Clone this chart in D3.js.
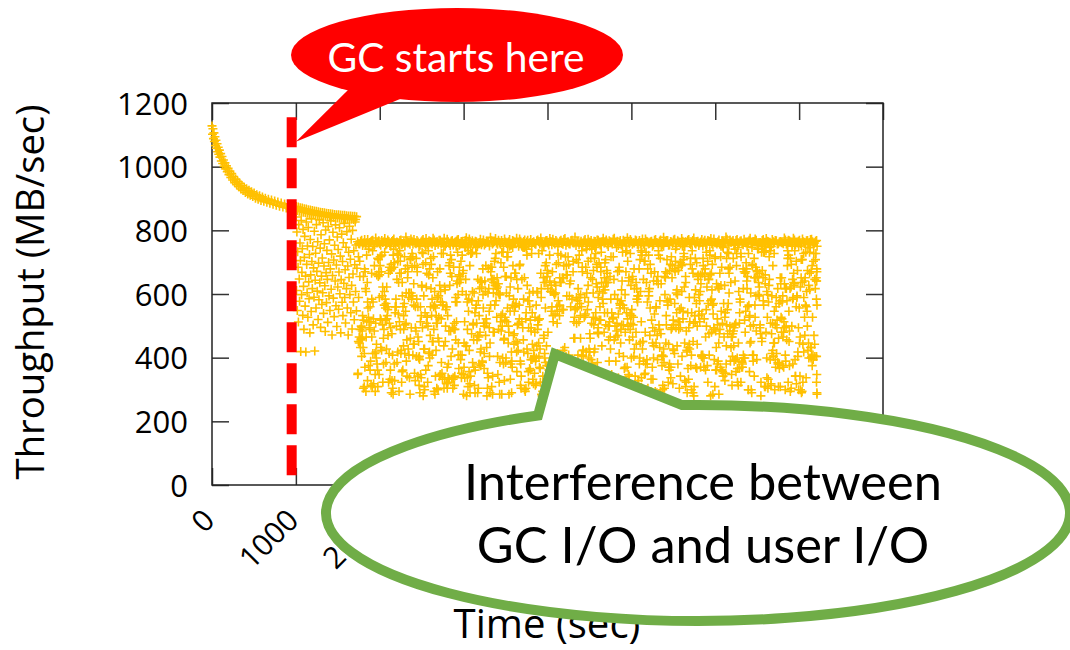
<!DOCTYPE html>
<html lang="en">
<head>
<meta charset="UTF-8"/>
<title>Throughput over time – GC interference</title>
<script src="https://cdn.jsdelivr.net/npm/d3@7/dist/d3.min.js"></script>
<style>
    body { margin: 0; background: #fff; }
    svg { display: block; }
    .axis path.domain { display: none; }
    .axis line { stroke: #333; stroke-width: 1.5px; }
    .axis text { font-family: "Open Sans", sans-serif; fill: #000; }
    .mark { fill: none; stroke: #ffc000; stroke-width: 1.6px; }
    .label { font-family: "Open Sans", sans-serif; fill: #000; }
    .callout { font-family: Lato, "Open Sans", sans-serif; }
</style>
</head>
<body>
<svg width="1070" height="650"></svg>
<script>

// ---- data: [time (sec), throughput (MB/sec)] ----
const warmUp = [[0,1128],[6,1102],[11,1119],[17,1088],[23,1106],[29,1079],[35,1094],[41,1066],[47,1083],[53,1058],[60,1072],[67,1047],[74,1061],[81,1039],[88,1052],[95,1030],[103,1041],[111,1018],[119,1032],[127,1010],[136,1021],[145,1001],[154,1012],[163,993],[172,1003],[182,984],[192,995],[202,975],[213,986],[224,966],[235,978],[246,958],[258,969],[270,950],[282,961],[294,943],[306,954],[318,937],[331,948],[344,930],[357,941],[370,925],[384,935],[398,919],[412,931],[426,914],[441,926],[456,910],[471,921],[486,906],[502,917],[518,901],[534,912],[550,898],[567,909],[584,894],[601,905],[618,891],[636,901],[654,888],[672,898],[690,885],[709,895],[728,882],[747,892],[766,879],[785,889],[805,876],[825,886],[845,873],[865,883],[885,870],[905,880],[925,868],[945,877],[965,866],[985,875],[1000,864]];

const bandEarly = [[1004,875],[1016,862],[1028,873],[1040,860],[1052,871],[1064,859],[1076,870],[1088,857],[1100,868],[1112,856],[1124,867],[1136,854],[1148,865],[1160,853],[1172,864],[1184,851],[1196,862],[1208,850],[1220,861],[1232,849],[1244,860],[1256,848],[1268,858],[1280,847],[1292,857],[1304,846],[1316,856],[1328,845],[1340,855],[1352,844],[1364,854],[1376,843],[1388,853],[1400,842],[1412,852],[1424,841],[1436,851],[1448,840],[1460,850],[1472,840],[1484,849],[1496,839],[1508,849],[1520,838],[1532,848],[1544,838],[1556,847],[1568,837],[1580,847],[1592,836],[1604,846],[1616,836],[1628,845],[1640,835],[1652,845],[1664,835],[1676,844],[1688,834],[1700,844],[1712,834],[1724,843]];

const bandLate = [
[1736,764],[1760,757],[1784,769],[1808,760],[1832,755],[1856,771],[1880,762],[1904,767],[1928,756],[1952,776],
[1976,761],[2000,758],[2024,768],[2048,763],[2072,754],[2096,770],[2120,759],[2144,765],[2168,773],[2192,757],
[2216,762],[2240,768],[2264,755],[2288,764],[2312,779],[2336,760],[2360,756],[2384,766],[2408,771],[2432,758],
[2456,763],[2480,753],[2504,767],[2528,761],[2552,774],[2576,759],[2600,765],[2624,757],[2648,770],[2672,762],
[2696,756],[2720,769],[2744,760],[2768,775],[2792,758],[2816,764],[2840,752],[2864,768],[2888,761],[2912,766],
[2936,771],[2960,757],[2984,763],[3008,759],[3032,777],[3056,762],[3080,755],[3104,767],[3128,760],[3152,764],
[3176,758],[3200,772],[3224,761],[3248,754],[3272,766],[3296,763],[3320,778],[3344,757],[3368,765],[3392,760],
[3416,769],[3440,756],[3464,762],[3488,773],[3512,759],[3536,764],[3560,753],[3584,768],[3608,761],[3632,775],
[3656,760],[3680,766],[3704,757],[3728,770],[3752,763],[3776,755],[3800,771],[3824,762],[3848,758],[3872,767],
[3896,764],[3920,776],[3944,759],[3968,761],[3992,768],[4016,754],[4040,765],[4064,772],[4088,757],[4112,763],
[4136,760],[4160,769],[4184,756],[4208,774],[4232,762],[4256,758],[4280,767],[4304,761],[4328,779],[4352,764],
[4376,755],[4400,766],[4424,760],[4448,771],[4472,757],[4496,763],[4520,768],[4544,753],[4568,765],[4592,770],
[4616,761],[4640,758],[4664,775],[4688,764],[4712,756],[4736,767],[4760,762],[4784,772],[4808,759],[4832,766],
[4856,763],[4880,754],[4904,769],[4928,760],[4952,777],[4976,758],[5000,765],[5024,761],[5048,770],[5072,756],
[5096,768],[5120,762],[5144,757],[5168,773],[5192,764],[5216,759],[5240,766],[5264,755],[5288,771],[5312,760],
[5336,765],[5360,757],[5384,778],[5408,762],[5432,768],[5456,754],[5480,763],[5504,770],[5528,758],[5552,767],
[5576,761],[5600,774],[5624,756],[5648,764],[5672,769],[5696,759],[5720,762],[5744,776],[5768,757],[5792,766],
[5816,760],[5840,771],[5864,763],[5888,755],[5912,768],[5936,765],[5960,758],[5984,773],[6008,761],[6032,764],
[6056,756],[6080,767],[6104,762],[6128,779],[6152,759],[6176,770],[6200,764],[6224,753],[6248,768],[6272,761],
[6296,766],[6320,758],[6344,772],[6368,760],[6392,763],[6416,775],[6440,757],[6464,765],[6488,769],[6512,755],
[6536,762],[6560,768],[6584,759],[6608,774],[6632,764],[6656,756],[6680,771],[6704,761],[6728,767],[6752,758],
[6776,765],[6800,760],[6824,776],[6848,757],[6872,769],[6896,763],[6920,754],[6944,770],[6968,762],[6992,766],
[7016,759],[7040,773],[7064,761],[7088,767],[7112,756],[7136,771],[7160,764],[7184,760],[7208,768]];

const bandLateB = [
[1748,758],[1772,766],[1796,752],[1820,771],[1844,761],[1868,749],[1892,764],[1916,769],[1940,755],[1964,760],
[1988,767],[2012,753],[2036,762],[2060,774],[2084,757],[2108,765],[2132,750],[2156,768],[2180,760],[2204,763],
[2228,755],[2252,770],[2276,759],[2300,751],[2324,766],[2348,762],[2372,773],[2396,756],[2420,761],[2444,768],
[2468,749],[2492,763],[2516,771],[2540,758],[2564,754],[2588,767],[2612,760],[2636,775],[2660,752],[2684,764],
[2708,769],[2732,757],[2756,761],[2780,750],[2804,772],[2828,759],[2852,766],[2876,754],[2900,763],[2924,770],
[2948,753],[2972,765],[2996,758],[3020,768],[3044,751],[3068,773],[3092,760],[3116,757],[3140,766],[3164,749],
[3188,762],[3212,755],[3236,770],[3260,759],[3284,764],[3308,751],[3332,767],[3356,761],[3380,774],[3404,756],
[3428,760],[3452,768],[3476,750],[3500,763],[3524,757],[3548,771],[3572,754],[3596,766],[3620,759],[3644,762],
[3668,773],[3692,752],[3716,765],[3740,758],[3764,769],[3788,761],[3812,750],[3836,764],[3860,756],[3884,770],
[3908,757],[3932,763],[3956,751],[3980,767],[4004,760],[4028,774],[4052,755],[4076,762],[4100,768],[4124,749],
[4148,766],[4172,759],[4196,771],[4220,753],[4244,764],[4268,757],[4292,769],[4316,760],[4340,752],[4364,765],
[4388,761],[4412,750],[4436,767],[4460,756],[4484,772],[4508,762],[4532,758],[4556,766],[4580,751],[4604,769],
[4628,754],[4652,764],[4676,760],[4700,770],[4724,749],[4748,763],[4772,757],[4796,775],[4820,761],[4844,752],
[4868,768],[4892,758],[4916,765],[4940,751],[4964,762],[4988,771],[5012,756],[5036,760],[5060,767],[5084,753],
[5108,759],[5132,773],[5156,752],[5180,766],[5204,757],[5228,764],[5252,750],[5276,769],[5300,762],[5324,756],
[5348,770],[5372,754],[5396,761],[5420,768],[5444,753],[5468,765],[5492,759],[5516,772],[5540,750],[5564,763],
[5588,757],[5612,766],[5636,749],[5660,762],[5684,771],[5708,755],[5732,768],[5756,760],[5780,764],[5804,752],
[5828,763],[5852,751],[5876,769],[5900,758],[5924,766],[5948,774],[5972,753],[5996,761],[6020,757],[6044,770],
[6068,750],[6092,765],[6116,760],[6140,772],[6164,754],[6188,762],[6212,768],[6236,756],[6260,771],[6284,759],
[6308,767],[6332,755],[6356,763],[6380,750],[6404,769],[6428,758],[6452,765],[6476,773],[6500,752],[6524,761],
[6548,756],[6572,771],[6596,754],[6620,766],[6644,760],[6668,749],[6692,764],[6716,768],[6740,757],[6764,763],
[6788,762],[6812,758],[6836,770],[6860,753],[6884,767],[6908,761],[6932,775],[6956,755],[6980,760],[7004,769],
[7028,751],[7052,764],[7076,757],[7100,768],[7124,762],[7148,772],[7172,754],[7196,766]];

const cloudEarly = [
[1003,842],[1008,611],[1012,795],[1017,548],[1021,733],[1026,684],[1030,512],[1035,818],[1040,647],[1044,577],
[1049,760],[1054,705],[1058,419],[1063,831],[1068,598],[1072,668],[1077,742],[1082,533],[1086,803],[1091,624],
[1096,489],[1101,715],[1105,781],[1110,562],[1115,656],[1119,418],[1124,826],[1129,693],[1134,604],[1138,751],
[1143,527],[1148,809],[1153,638],[1157,585],[1162,724],[1167,478],[1172,771],[1177,660],[1182,545],[1186,836],
[1191,702],[1196,617],[1201,749],[1206,503],[1211,682],[1216,590],[1220,797],[1225,421],[1230,643],[1235,728],
[1240,556],[1245,818],[1250,671],[1255,609],[1260,764],[1265,520],[1270,697],[1275,582],[1280,833],[1285,635],
[1290,744],[1295,495],[1300,786],[1305,656],[1310,567],[1315,713],[1320,604],[1325,824],[1330,539],[1335,688],
[1340,758],[1345,626],[1350,482],[1355,801],[1360,667],[1365,573],[1370,737],[1375,646],[1380,511],[1385,812],
[1390,699],[1395,594],[1400,770],[1406,548],[1411,679],[1416,830],[1421,615],[1426,726],[1431,471],[1437,658],
[1442,794],[1447,587],[1452,707],[1457,529],[1462,753],[1468,641],[1473,817],[1478,563],[1483,691],[1488,498],
[1494,779],[1499,622],[1504,740],[1509,552],[1514,669],[1520,808],[1525,601],[1530,719],[1535,478],[1540,645],
[1546,788],[1551,574],[1556,702],[1561,532],[1566,761],[1572,634],[1577,822],[1582,589],[1587,676],[1592,509],
[1598,747],[1603,617],[1608,796],[1613,556],[1618,688],[1624,471],[1629,731],[1634,652],[1639,813],[1644,598],
[1650,709],[1655,541],[1660,772],[1665,627],[1670,490],[1676,800],[1681,663],[1686,575],[1691,736],[1696,519],
[1702,692],[1707,826],[1712,608],[1717,754],[1722,547],[1728,681]];

const cloudMidTime = [
1737,1740,1746,1748,1755,1761,1763,1770,1777,1779, 1784,1791,1793,1801,1805,1808,1816,1819,1823,1830,
1836,1838,1844,1851,1854,1860,1867,1869,1874,1882, 1885,1891,1896,1903,1905,1911,1918,1920,1927,1933,
1936,1943,1946,1952,1959,1961,1968,1974,1977,1983, 1989,1992,1999,2004,2006,2013,2019,2022,2029,2035,
2037,2044,2050,2053,2059,2066,2068,2074,2081,2083, 2090,2096,2099,2105,2112,2114,2121,2127,2130,2137,
2143,2146,2152,2159,2161,2168,2174,2177,2184,2190, 2193,2199,2206,2208,2215,2221,2224,2230,2237,2239,
2246,2252,2255,2261,2268,2270,2277,2283,2286,2292, 2299,2301,2308,2314,2317,2323,2330,2332,2339,2345,
2348,2354,2361,2363,2370,2376,2379,2385,2392,2394, 2401,2407,2410,2416,2423,2425,2432,2438,2441,2447,
2454,2456,2463,2469,2472,2478,2485,2487,2494,2500, 2503,2509,2516,2518,2525,2531,2534,2540,2547,2549,
2556,2562,2565,2571,2578,2580,2587,2593,2596,2602, 2609,2611,2618,2624,2627,2633,2640,2642,2649,2655,
2658,2664,2671,2673,2680,2686,2689,2695,2702,2704, 2711,2717,2720,2726,2733,2735,2742,2748,2751,2757,
2764,2766,2773,2779,2782,2788,2795,2797,2804,2810, 2813,2819,2826,2828,2835,2841,2844,2850,2857,2859,
2866,2872,2875,2881,2888,2890,2897,2903,2906,2912, 2919,2921,2928,2934,2937,2943,2950,2952,2959,2965,
2968,2974,2981,2983,2990,2996,2999,3005,3012,3014, 3021,3027,3030,3036,3043,3045,3052,3058,3061,3067,
3074,3076,3083,3089,3092,3098,3105,3107,3114,3120, 3123,3129,3136,3138,3145,3151,3154,3160,3167,3169,
3176,3182,3185,3191,3198,3200,3207,3213,3216,3222, 3229,3231,3238,3244,3247,3253,3260,3262,3269,3275,
3278,3284,3291,3293,3300,3306,3309,3315,3322,3324, 3331,3337,3340,3346,3353,3355,3362,3368,3371,3377,
3384,3386,3393,3399,3402,3408,3415,3417,3424,3430, 3433,3439,3446,3448,3455,3461,3464,3470,3477,3479,
3486,3492,3495,3501,3508,3510,3517,3523,3526,3532, 3539,3541,3548,3554,3557,3563,3570,3572,3579,3585,
3588,3594,3601,3603,3610,3616,3619,3625,3632,3634, 3641,3647,3650,3656,3663,3665,3672,3678,3681,3687,
3694,3696,3703,3709,3712,3718,3725,3727,3734,3740, 3743,3749,3756,3758,3765,3771,3774,3780,3787,3789,
3796,3802,3805,3811,3818,3820,3827,3833,3836,3842, 3849,3851,3858,3864,3867,3873,3880,3882,3889,3895,
3898,3904,3911,3913,3920,3926,3929,3935,3942,3944, 3951,3957,3960,3966,3973,3975,3982,3988,3991,3997,
4004,4006,4013,4019,4022,4028,4035,4037,4044,4050, 4053,4059,4066,4068,4075,4081,4084,4090,4097,4099,
4106,4112,4115,4121,4128,4130,4137,4143,4146,4152, 4159,4161,4168,4174,4177,4183,4190,4192,4199,4205,
4208,4214,4221,4223,4230,4236,4239,4245,4252,4254, 4261,4267,4270,4276,4283,4285,4292,4298,4301,4307,
4314,4316,4323,4329,4332,4338,4345,4347,4354,4360, 4363,4369,4376,4378,4385,4391,4394,4400,4407,4409,
4416,4422,4425,4431,4438,4440,4447,4453,4456,4462];

const cloudMidRate = [
347,351,717,589,446,703,655,432,461,499, 404,484,461,432,655,518,413,679,370,617,
608,465,722,636,328,556,375,741,513,489, 560,389,313,665,584,309,413,575,318,750,
689,413,294,508,399,442,380,361,309,655, 670,347,660,689,522,432,670,423,594,503,
323,461,489,565,731,518,556,385,427,622, 532,560,470,665,413,508,332,361,494,290,
679,328,408,285,722,684,380,328,541,560, 584,499,385,727,703,537,722,294,665,736,
489,413,665,323,636,594,560,437,489,570, 413,503,546,508,389,456,689,651,427,589,
408,337,285,708,712,494,584,684,594,717, 442,565,442,689,328,494,484,404,584,670,
342,465,451,313,404,290,513,347,337,627, 622,494,693,280,594,309,427,541,698,361,
508,665,527,323,375,736,413,418,399,470, 712,617,532,584,451,651,717,560,294,565,
285,342,423,532,304,508,670,299,594,527, 342,679,347,608,522,727,351,332,565,727,
437,304,622,613,451,551,560,560,370,532, 323,380,689,332,627,665,722,404,332,655,
427,304,332,684,508,313,489,575,456,750, 575,632,731,598,446,366,684,636,408,394,
703,337,408,722,665,674,285,370,513,337, 746,437,598,437,575,489,309,546,584,423,
689,290,342,727,727,579,731,385,503,456, 370,313,290,361,746,565,727,456,290,646,
304,465,380,617,641,418,427,641,636,389, 679,598,508,366,499,641,608,470,522,432,
280,304,603,337,617,494,404,446,565,670, 646,684,646,342,480,636,646,703,565,712,
627,579,617,651,622,347,603,489,323,285, 385,513,532,484,285,499,537,731,684,456,
328,518,655,385,655,603,717,556,717,446, 480,285,750,546,332,380,418,290,370,565,
689,470,442,475,665,560,665,451,418,646, 503,617,423,750,565,522,693,313,380,342,
513,750,750,746,456,418,651,299,750,522, 304,741,427,627,413,356,323,579,366,560,
518,394,494,727,541,442,608,318,423,404, 480,527,389,318,399,437,489,603,518,446,
404,370,427,366,665,617,285,280,294,342, 651,461,636,413,689,556,636,437,375,674,
665,480,309,361,361,641,608,347,627,294, 560,670,532,513,299,413,636,537,603,627,
332,560,546,413,579,698,389,532,651,636, 722,636,370,551,651,366,551,651,304,432,
361,337,404,660,594,342,280,370,408,693, 594,332,370,560,323,380,584,375,370,703,
461,323,527,551,375,328,589,508,556,579, 408,698,589,722,570,532,461,366,408,736,
670,423,423,370,527,294,532,285,684,418];

const cloudLateTime = [
4467,4472,4476,4484,4487,4493,4502,4504,4509,4516, 4520,4528,4531,4537,4546,4548,4553,4560,4564,4572,
4575,4581,4590,4592,4597,4604,4608,4616,4619,4625, 4634,4636,4641,4648,4652,4660,4663,4669,4678,4680,
4685,4692,4696,4704,4707,4713,4722,4724,4729,4736, 4740,4748,4751,4757,4766,4768,4773,4780,4784,4792,
4795,4801,4810,4812,4817,4824,4828,4836,4839,4845, 4854,4856,4861,4868,4872,4880,4883,4889,4898,4900,
4905,4912,4916,4924,4927,4933,4942,4944,4949,4956, 4960,4968,4971,4977,4986,4988,4993,5000,5004,5012,
5015,5021,5030,5032,5037,5044,5048,5056,5059,5065, 5074,5076,5081,5088,5092,5100,5103,5109,5118,5120,
5125,5132,5136,5144,5147,5153,5162,5164,5169,5176, 5180,5188,5191,5197,5206,5208,5213,5220,5224,5232,
5235,5241,5250,5252,5257,5264,5268,5276,5279,5285, 5294,5296,5301,5308,5312,5320,5323,5329,5338,5340,
5345,5352,5356,5364,5367,5373,5382,5384,5389,5396, 5400,5408,5411,5417,5426,5428,5433,5440,5444,5452,
5455,5461,5470,5472,5477,5484,5488,5496,5499,5505, 5514,5516,5521,5528,5532,5540,5543,5549,5558,5560,
5565,5572,5576,5584,5587,5593,5602,5604,5609,5616, 5620,5628,5631,5637,5646,5648,5653,5660,5664,5672,
5675,5681,5690,5692,5697,5704,5708,5716,5719,5725, 5734,5736,5741,5748,5752,5760,5763,5769,5778,5780,
5785,5792,5796,5804,5807,5813,5822,5824,5829,5836, 5840,5848,5851,5857,5866,5868,5873,5880,5884,5892,
5895,5901,5910,5912,5917,5924,5928,5936,5939,5945, 5954,5956,5961,5968,5972,5980,5983,5989,5998,6000,
6005,6012,6016,6024,6027,6033,6042,6044,6049,6056, 6060,6068,6071,6077,6086,6088,6093,6100,6104,6112,
6115,6121,6130,6132,6137,6144,6148,6156,6159,6165, 6174,6176,6181,6188,6192,6200,6203,6209,6218,6220,
6225,6232,6236,6244,6247,6253,6262,6264,6269,6276, 6280,6288,6291,6297,6306,6308,6313,6320,6324,6332,
6335,6341,6350,6352,6357,6364,6368,6376,6379,6385, 6394,6396,6401,6408,6412,6420,6423,6429,6438,6440,
6445,6452,6456,6464,6467,6473,6482,6484,6489,6496, 6500,6508,6511,6517,6526,6528,6533,6540,6544,6552,
6555,6561,6570,6572,6577,6584,6588,6596,6599,6605, 6614,6616,6621,6628,6632,6640,6643,6649,6658,6660,
6665,6672,6676,6684,6687,6693,6702,6704,6709,6716, 6720,6728,6731,6737,6746,6748,6753,6760,6764,6772,
6775,6781,6790,6792,6797,6804,6808,6816,6819,6825, 6834,6836,6841,6848,6852,6860,6863,6869,6878,6880,
6885,6892,6896,6904,6907,6913,6922,6924,6929,6936, 6940,6948,6951,6957,6966,6968,6973,6980,6984,6992,
6995,7001,7010,7012,7017,7024,7028,7036,7039,7045, 7054,7056,7061,7068,7072,7080,7083,7089,7098,7100,
7105,7112,7116,7124,7127,7133,7142,7144,7149,7156, 7160,7168,7171,7177,7186,7188,7193,7200,7204,7208,
7210,7212,7213,7211,7209,7214,7207,7212,7206,7213];

const cloudLateRate = [
603,750,551,627,575,399,750,475,461,712, 394,741,380,646,527,674,503,712,427,522,
541,632,684,622,480,494,475,518,608,560, 518,670,731,437,332,603,570,622,651,541,
698,708,636,323,674,665,636,499,456,499, 513,465,427,717,541,309,299,280,717,646,
285,598,332,465,280,746,508,670,470,337, 684,674,570,565,446,579,613,641,565,328,
503,328,366,370,480,731,541,736,370,703, 499,641,651,456,489,727,508,399,532,655,
646,503,404,679,617,299,299,636,442,584, 575,318,299,594,679,399,708,608,513,337,
722,427,451,646,290,703,703,351,380,299, 636,380,575,304,608,594,290,470,556,294,
665,518,370,446,332,399,437,670,484,280, 446,556,641,470,394,632,736,503,432,579,
712,475,750,408,404,299,404,750,385,655, 598,670,446,503,665,579,565,323,442,361,
380,584,337,370,717,494,689,427,518,423, 413,570,670,741,494,541,613,598,513,674,
684,304,513,494,698,556,608,404,750,546, 708,717,622,328,655,636,323,423,418,541,
432,332,589,442,513,693,375,408,541,736, 290,451,508,309,589,513,712,370,698,366,
442,655,646,532,546,579,608,660,632,404, 537,399,408,689,399,522,665,679,361,551,
499,622,703,323,646,646,408,722,660,280, 665,584,613,565,285,570,494,394,712,717,
361,432,361,380,503,622,446,285,475,489, 370,627,546,684,508,356,342,570,351,627,
527,541,380,437,503,551,475,679,727,603, 484,684,389,432,465,313,465,475,484,437,
494,503,641,394,356,689,399,366,746,446, 608,508,541,575,323,717,370,385,380,679,
408,399,518,399,480,546,698,641,617,655, 299,727,565,356,532,499,603,299,746,689,
408,389,408,712,651,565,684,651,484,674, 670,655,598,741,594,665,494,475,280,731,
461,674,651,579,565,731,309,660,309,480, 399,337,527,304,332,627,717,746,508,736,
318,475,413,508,689,404,727,546,299,394, 370,589,413,518,385,380,309,570,366,579,
309,632,480,651,575,375,465,370,513,494, 299,617,389,617,456,689,736,323,546,451,
484,617,712,622,693,499,646,584,589,636, 627,736,394,342,703,318,589,674,404,494,
750,556,342,465,299,651,290,636,708,323, 727,589,641,470,651,731,337,608,499,674,
746,446,399,731,613,746,399,670,404,375, 527,394,703,470,646,404,617,727,651,404,
679,670,565,347,641,750,323,290,584,285];

// second set of samples, one every 10 s
const cloudTenTime = [
1745,1755,1765,1775,1785,1795,1805,1815,1825,1835,1845,1855,1865,1875,1885,1895,1905,1915,1925,1935,
1945,1955,1965,1975,1985,1995,2005,2015,2025,2035,2045,2055,2065,2075,2085,2095,2105,2115,2125,2135,
2145,2155,2165,2175,2185,2195,2205,2215,2225,2235,2245,2255,2265,2275,2285,2295,2305,2315,2325,2335,
2345,2355,2365,2375,2385,2395,2405,2415,2425,2435,2445,2455,2465,2475,2485,2495,2505,2515,2525,2535,
2545,2555,2565,2575,2585,2595,2605,2615,2625,2635,2645,2655,2665,2675,2685,2695,2705,2715,2725,2735,
2745,2755,2765,2775,2785,2795,2805,2815,2825,2835,2845,2855,2865,2875,2885,2895,2905,2915,2925,2935,
2945,2955,2965,2975,2985,2995,3005,3015,3025,3035,3045,3055,3065,3075,3085,3095,3105,3115,3125,3135,
3145,3155,3165,3175,3185,3195,3205,3215,3225,3235,3245,3255,3265,3275,3285,3295,3305,3315,3325,3335,
3345,3355,3365,3375,3385,3395,3405,3415,3425,3435,3445,3455,3465,3475,3485,3495,3505,3515,3525,3535,
3545,3555,3565,3575,3585,3595,3605,3615,3625,3635,3645,3655,3665,3675,3685,3695,3705,3715,3725,3735,
3745,3755,3765,3775,3785,3795,3805,3815,3825,3835,3845,3855,3865,3875,3885,3895,3905,3915,3925,3935,
3945,3955,3965,3975,3985,3995,4005,4015,4025,4035,4045,4055,4065,4075,4085,4095,4105,4115,4125,4135,
4145,4155,4165,4175,4185,4195,4205,4215,4225,4235,4245,4255,4265,4275,4285,4295,4305,4315,4325,4335,
4345,4355,4365,4375,4385,4395,4405,4415,4425,4435,4445,4455,4465,4475,4485,4495,4505,4515,4525,4535,
4545,4555,4565,4575,4585,4595,4605,4615,4625,4635,4645,4655,4665,4675,4685,4695,4705,4715,4725,4735,
4745,4755,4765,4775,4785,4795,4805,4815,4825,4835,4845,4855,4865,4875,4885,4895,4905,4915,4925,4935,
4945,4955,4965,4975,4985,4995,5005,5015,5025,5035,5045,5055,5065,5075,5085,5095,5105,5115,5125,5135,
5145,5155,5165,5175,5185,5195,5205,5215,5225,5235,5245,5255,5265,5275,5285,5295,5305,5315,5325,5335,
5345,5355,5365,5375,5385,5395,5405,5415,5425,5435,5445,5455,5465,5475,5485,5495,5505,5515,5525,5535,
5545,5555,5565,5575,5585,5595,5605,5615,5625,5635,5645,5655,5665,5675,5685,5695,5705,5715,5725,5735,
5745,5755,5765,5775,5785,5795,5805,5815,5825,5835,5845,5855,5865,5875,5885,5895,5905,5915,5925,5935,
5945,5955,5965,5975,5985,5995,6005,6015,6025,6035,6045,6055,6065,6075,6085,6095,6105,6115,6125,6135,
6145,6155,6165,6175,6185,6195,6205,6215,6225,6235,6245,6255,6265,6275,6285,6295,6305,6315,6325,6335,
6345,6355,6365,6375,6385,6395,6405,6415,6425,6435,6445,6455,6465,6475,6485,6495,6505,6515,6525,6535,
6545,6555,6565,6575,6585,6595,6605,6615,6625,6635,6645,6655,6665,6675,6685,6695,6705,6715,6725,6735,
6745,6755,6765,6775,6785,6795,6805,6815,6825,6835,6845,6855,6865,6875,6885,6895,6905,6915,6925,6935,
6945,6955,6965,6975,6985,6995,7005,7015,7025,7035,7045,7055,7065,7075,7085,7095,7105,7115,7125,7135,
7145,7155,7165,7175,7185,7195,7205];

const cloudTenRate = [
451,465,489,456,494,532,304,309,670,294,513,575,527,494,361,513,465,736,522,484,
347,418,660,712,708,589,717,518,722,622,380,608,584,570,522,551,323,684,674,693,
475,304,741,698,560,560,646,418,636,513,703,423,356,361,532,717,679,603,342,670,
603,603,461,603,727,408,632,351,560,712,684,560,399,394,560,532,731,727,427,299,
750,622,527,499,660,679,560,693,408,451,489,608,556,508,589,461,451,627,575,385,
575,565,750,337,499,318,304,337,484,698,484,708,494,337,489,342,589,513,641,408,
660,655,646,351,608,347,446,750,646,280,337,736,356,318,727,475,608,508,603,541,
556,508,470,579,532,480,375,622,385,556,413,508,689,508,351,679,546,290,684,309,
285,603,480,627,727,527,404,632,598,598,698,731,399,380,461,527,399,513,731,499,
594,622,651,389,746,584,546,560,570,356,446,508,689,389,304,646,494,584,746,294,
541,722,579,494,603,361,484,394,332,399,351,313,565,608,503,727,522,323,589,736,
323,470,399,385,698,655,617,318,722,347,546,608,342,603,598,385,693,508,727,304,
565,328,351,294,423,689,361,717,689,660,717,318,632,641,323,361,670,513,461,556,
708,323,617,513,323,598,560,684,404,342,589,537,741,665,703,427,418,651,508,380,
603,418,746,727,693,385,589,698,299,684,636,584,285,480,613,503,636,541,342,389,
655,584,347,522,527,456,499,389,484,584,537,413,556,489,503,731,404,556,598,670,
328,522,347,342,537,627,551,465,527,427,342,480,617,594,328,380,446,736,731,451,
389,347,480,731,394,679,722,617,693,332,285,494,641,537,294,560,290,655,722,489,
294,632,375,313,427,304,651,532,708,575,370,674,693,489,651,318,503,679,703,603,
437,380,489,551,342,689,693,522,727,446,309,484,290,366,494,427,712,299,679,665,
280,532,613,570,499,660,598,513,370,408,665,712,370,655,465,731,375,570,475,736,
579,480,693,537,489,309,484,632,522,389,617,665,717,361,750,746,465,328,351,712,
731,570,665,499,636,347,404,712,389,741,508,727,323,313,366,584,727,389,370,617,
670,665,670,679,560,299,527,446,451,290,693,503,342,527,594,394,741,636,622,503,
323,451,750,731,731,632,736,608,598,575,646,394,313,594,423,446,446,503,560,494,
617,461,380,651,527,522,594,480,632,408,499,579,712,722,375,294,304,750,380,665,
632,342,560,594,418,299,446,622,708,294,442,418,527,565,560,546,423,627,665,432,
432,689,408,727,442,708,641];

const xTicks = [0, 1000, 2000, 3000, 4000, 5000, 6000, 7000, 8000];
const yTicks = [0, 200, 400, 600, 800, 1000, 1200];
const gcStart = 950;

// ---- chart ----
let svg = d3.select("svg");

let x = d3.scaleLinear().domain([0, 8000]).range([212, 883]);
let y = d3.scaleLinear().domain([0, 1200]).range([485, 103]);

function fit(sel, w) {
    let len = sel.node().getComputedTextLength();
    let fs = parseFloat(sel.style("font-size"));
    sel.style("font-size", (fs * w / len) + "px");
}

// mirrored inward ticks on all four sides
svg.append("g").attr("class", "axis")
    .attr("transform", "translate(0,485)")
    .call(d3.axisBottom(x).tickValues(xTicks).tickSize(-17).tickFormat(d3.format("d")))
    .selectAll("text")
    .attr("y", 0).attr("dy", 0)
    .attr("transform", "translate(4,37) rotate(-45)")
    .style("text-anchor", "end")
    .style("font-size", "30px");

svg.append("g").attr("class", "axis")
    .attr("transform", "translate(212,0)")
    .call(d3.axisLeft(y).tickValues(yTicks).tickSize(-17).tickPadding(24).tickFormat(d3.format("d")))
    .selectAll("text")
    .attr("dy", "0.36em")
    .style("font-size", "31px");

svg.append("g").attr("class", "axis")
    .attr("transform", "translate(0,103)")
    .call(d3.axisTop(x).tickValues(xTicks).tickSize(-17).tickFormat(""));

svg.append("g").attr("class", "axis")
    .attr("transform", "translate(883,0)")
    .call(d3.axisRight(y).tickValues(yTicks).tickSize(-17).tickFormat(""));

svg.append("rect")
    .attr("x", x(0)).attr("y", y(1200))
    .attr("width", x(8000) - x(0)).attr("height", y(0) - y(1200))
    .attr("fill", "none").attr("stroke", "#222").attr("stroke-width", 1.5);

// axis titles
let yTitle = svg.append("text").attr("class", "label")
    .attr("transform", "translate(44,292) rotate(-90)")
    .attr("text-anchor", "middle")
    .style("font-size", "33px")
    .text("Throughput (MB/sec)");
fit(yTitle, 375);

let xTitle = svg.append("text").attr("class", "label")
    .attr("x", 547).attr("y", 638)
    .attr("text-anchor", "middle")
    .style("font-size", "33px")
    .text("Time (sec)");
fit(xTitle, 187);

// scatter of "+" marks
let points = [].concat(warmUp, bandEarly, cloudEarly,
    d3.zip(cloudMidTime, cloudMidRate), d3.zip(cloudLateTime, cloudLateRate),
    d3.zip(cloudTenTime, cloudTenRate),
    bandLate, bandLateB);
svg.append("g").selectAll("path")
    .data(points)
    .join("path")
    .attr("class", "mark")
    .attr("transform", d => "translate(" + x(d[0]) + "," + y(d[1]) + ")")
    .attr("d", "M-4.5,0H4.5M0,-4.5V4.5");

// GC start marker
svg.append("line")
    .attr("x1", x(gcStart)).attr("x2", x(gcStart))
    .attr("y1", y(1155)).attr("y2", y(31))
    .attr("stroke", "#ff0000").attr("stroke-width", 10)
    .attr("stroke-dasharray", "30 11");

// red callout
let tip = [x(1000), y(1078)];
svg.append("path")
    .attr("d", "M350,88L" + tip[0] + "," + tip[1] + "L405,97Z")
    .attr("fill", "#ff0000");
svg.append("ellipse")
    .attr("cx", 457).attr("cy", 55).attr("rx", 166).attr("ry", 47)
    .attr("fill", "#ff0000");
let gcText = svg.append("text").attr("class", "callout")
    .attr("x", 456).attr("y", 72)
    .attr("text-anchor", "middle")
    .attr("fill", "#fff")
    .style("font-size", "44px")
    .text("GC starts here");
fit(gcText, 257);

// green callout: ellipse with a pointed tail, one outline
let cx = 698, cy = 513, rx = 372, ry = 108;
let onTop = px => cy - ry * Math.sqrt(1 - Math.pow((px - cx) / rx, 2));
let L = [538, onTop(538)], R = [682, onTop(682)], T = [555, 354];
svg.append("path")
    .attr("d", "M" + L + "L" + T + "L" + R +
        "A" + rx + "," + ry + " 0 1 1 " + L + "Z")
    .attr("fill", "#fff")
    .attr("stroke", "#70ad47")
    .attr("stroke-width", 10)
    .attr("stroke-linejoin", "miter");

let line1 = svg.append("text").attr("class", "callout")
    .attr("x", 703).attr("y", 500)
    .attr("text-anchor", "middle")
    .attr("fill", "#000")
    .style("font-size", "50px")
    .text("Interference between");
fit(line1, 478);
svg.append("text").attr("class", "callout")
    .attr("x", 703).attr("y", 563)
    .attr("text-anchor", "middle")
    .attr("fill", "#000")
    .style("font-size", line1.style("font-size"))
    .text("GC I/O and user I/O");

</script>
</body>
</html>
